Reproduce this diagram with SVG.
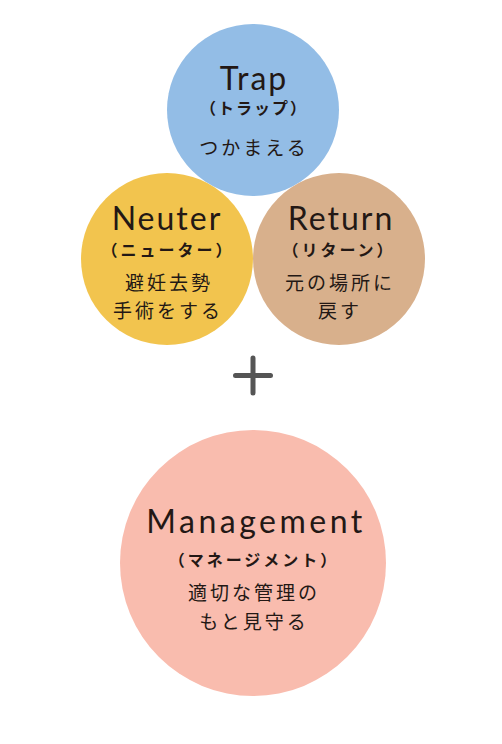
<svg xmlns="http://www.w3.org/2000/svg" width="502" height="744" viewBox="0 0 502 744">
<style>
.en{font-family:Lato,"Noto Sans",sans-serif;font-size:32px;fill:#231815;text-anchor:middle;letter-spacing:2px}
.kana{font-family:"Noto Sans CJK JP",sans-serif;font-size:16px;font-weight:700;fill:#231815;text-anchor:middle;letter-spacing:3px}
.jp{font-family:"Noto Sans CJK JP",sans-serif;font-size:19px;fill:#231815;text-anchor:middle;letter-spacing:3px}
</style>
<rect width="502" height="744" fill="#ffffff"/>
<g id="trap">
<circle cx="253" cy="110" r="86" fill="#93bde6"/>
<text class="en" x="254" y="90">Trap</text>
<text class="kana" x="254" y="114" style="letter-spacing:2px">（トラップ）</text>
<text class="jp" x="254" y="155">つかまえる</text>
</g>
<g id="neuter">
<circle cx="167" cy="259" r="86" fill="#f2c44e"/>
<text class="en" x="167" y="230">Neuter</text>
<text class="kana" x="168" y="256">（ニューター）</text>
<text class="jp" x="169" y="290">避妊去勢</text>
<text class="jp" x="168" y="318">手術をする</text>
</g>
<g id="return">
<circle cx="339" cy="259" r="86" fill="#d8b08c"/>
<text class="en" x="341" y="230">Return</text>
<text class="kana" x="339" y="256">（リターン）</text>
<text class="jp" x="340" y="290">元の場所に</text>
<text class="jp" x="340" y="318">戻す</text>
</g>
<g id="plus">
<path d="M253 358V393M235.5 375.5H270.5" stroke="#555555" stroke-width="5" stroke-linecap="round" fill="none"/>
</g>
<g id="management">
<circle cx="253" cy="563" r="133" fill="#f9bcae"/>
<text class="en" x="256" y="533" style="letter-spacing:3.5px">Management</text>
<text class="kana" x="254" y="566">（マネージメント）</text>
<text class="jp" x="254" y="600">適切な管理の</text>
<text class="jp" x="254" y="629">もと見守る</text>
</g>
</svg>
